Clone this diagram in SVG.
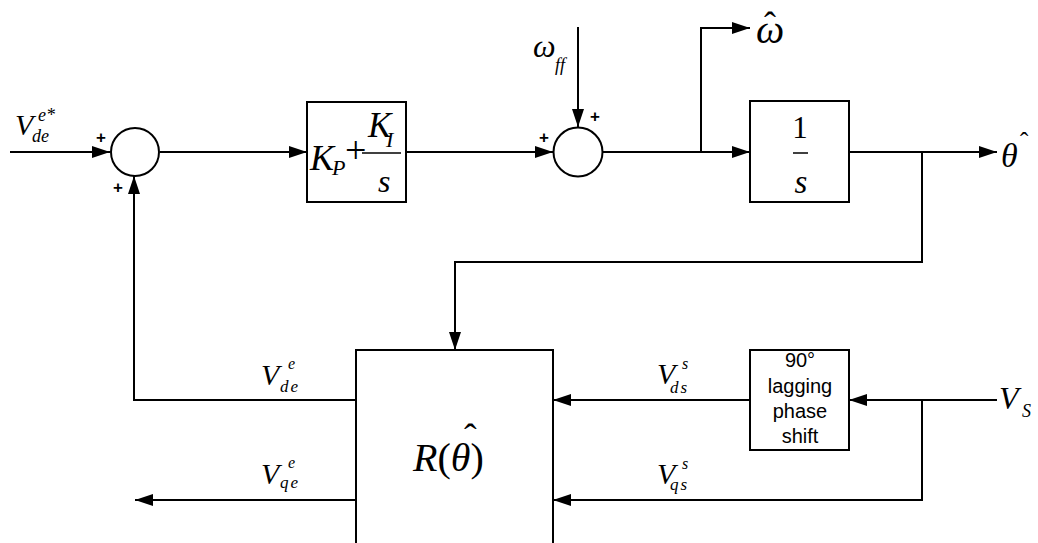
<svg xmlns="http://www.w3.org/2000/svg" width="1038" height="543" viewBox="0 0 1038 543">
<style>
.ln{fill:none;stroke:#000;stroke-width:2}
.ar{marker-end:url(#ah)}
.blk{fill:#fff;stroke:#000;stroke-width:2}
.m{font-family:"Liberation Serif",serif;font-style:italic;fill:#000}
.u{font-family:"Liberation Serif",serif;fill:#000}
.sg{font-family:"Liberation Sans",Arial,sans-serif;font-weight:bold;font-size:17px;fill:#000;text-anchor:middle}
.sn{font-family:"Liberation Sans",Arial,sans-serif;font-size:20px;fill:#000;text-anchor:middle}
</style>
<defs>
<marker id="ah" viewBox="0 0 18 12" refX="18" refY="6" markerWidth="18" markerHeight="12" markerUnits="userSpaceOnUse" orient="auto">
<path d="M0,0 L18,6 L0,12 z" fill="#000"/>
</marker>
</defs>
<rect width="1038" height="543" fill="#fff"/>
<g id="connectors">
<path class="ln ar" d="M10,152 H110"/>
<path class="ln ar" d="M160,152 H307"/>
<path class="ln ar" d="M406,152 H553"/>
<path class="ln ar" d="M578,27 V127"/>
<path class="ln ar" d="M602,152 H750"/>
<path class="ln ar" d="M701,152 V28 H750"/>
<path class="ln ar" d="M849,152 H997"/>
<path class="ln ar" d="M922,152 V262 H455 V350"/>
<path class="ln ar" d="M997,400 H849"/>
<path class="ln ar" d="M922,400 V500 H553"/>
<path class="ln ar" d="M750,400 H553"/>
<path class="ln ar" d="M356,400 H134 V176"/>
<path class="ln ar" d="M356,500 H135"/>
</g>
<g id="sum1">
<circle class="blk" cx="135" cy="152" r="24"/>
<text class="sg" x="101" y="143">+</text>
<text class="sg" x="118" y="193">+</text>
</g>
<g id="input-vde">
<text class="m" x="15" y="135" font-size="30">V</text>
<text class="m" x="38" y="121" font-size="18">e*</text>
<text class="m" x="32" y="142" font-size="18">de</text>
</g>
<g id="pi">
<rect class="blk" x="307" y="102" width="99" height="100"/>
<text class="m" x="310" y="170" font-size="36">K</text>
<text class="m" x="332" y="175" font-size="22">P</text>
<text class="u" x="345" y="163" font-size="38">+</text>
<text class="m" x="368" y="137" font-size="35">K</text>
<text class="m" x="386" y="147" font-size="22">I</text>
<line x1="362" y1="153" x2="401" y2="153" stroke="#000" stroke-width="1.5"/>
<text class="m" x="378" y="192" font-size="32">s</text>
</g>
<g id="sum2">
<circle class="blk" cx="578" cy="152" r="24.5"/>
<text class="sg" x="544" y="143">+</text>
<text class="sg" x="595" y="122">+</text>
</g>
<g id="omega-ff">
<text class="m" x="533" y="57" font-size="32">ω</text>
<text class="m" x="555" y="71" font-size="18">ff</text>
</g>
<g id="omega-hat">
<text class="m" x="756" y="43" font-size="40">ω</text>
<text class="u" x="764" y="37" font-size="36">ˆ</text>
</g>
<g id="integrator">
<rect class="blk" x="750" y="101" width="99" height="101"/>
<text class="u" x="800" y="138" font-size="31" text-anchor="middle">1</text>
<line x1="793" y1="153" x2="808" y2="153" stroke="#000" stroke-width="1.5"/>
<text class="m" x="801" y="193" font-size="33" text-anchor="middle">s</text>
</g>
<g id="theta-hat">
<text class="m" x="1001" y="167" font-size="34">θ</text>
<text class="u" x="1020" y="150" font-size="25">ˆ</text>
</g>
<g id="rotation">
<path class="blk" d="M356,545 V350 H553 V545"/>
<text x="413" y="471" font-size="40" class="u"><tspan font-style="italic">R</tspan>(<tspan font-style="italic">θ</tspan>)</text>
<text class="u" x="464" y="450" font-size="38">ˆ</text>
</g>
<g id="phase-shift">
<rect class="blk" x="750" y="350" width="99" height="100"/>
<text class="sn" x="800" y="367">90°</text>
<text class="sn" x="800" y="393">lagging</text>
<text class="sn" x="800" y="418">phase</text>
<text class="sn" x="800" y="443">shift</text>
</g>
<g id="labels">
<text class="m" x="261" y="385" font-size="30">V</text>
<text class="m" x="288" y="369" font-size="16">e</text>
<text class="m" x="280" y="392" font-size="17" letter-spacing="2">de</text>
<text class="m" x="261" y="484" font-size="30">V</text>
<text class="m" x="288" y="468" font-size="16">e</text>
<text class="m" x="280" y="488" font-size="17" letter-spacing="2">qe</text>
<text class="m" x="657" y="384" font-size="30">V</text>
<text class="m" x="682" y="369" font-size="16">s</text>
<text class="m" x="670" y="393" font-size="17" letter-spacing="2">ds</text>
<text class="m" x="657" y="484" font-size="30">V</text>
<text class="m" x="682" y="469" font-size="16">s</text>
<text class="m" x="670" y="490" font-size="17" letter-spacing="2">qs</text>
<text class="m" x="999" y="409" font-size="32">V</text>
<text class="m" x="1022" y="417" font-size="18">S</text>
</g>
</svg>
